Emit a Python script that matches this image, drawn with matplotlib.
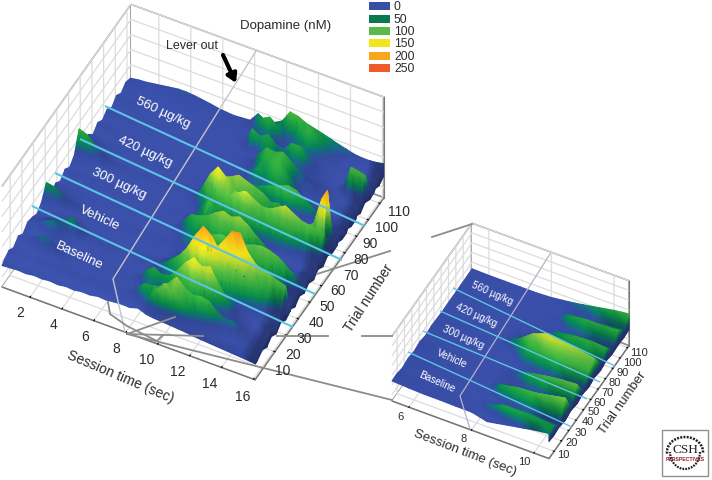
# dopamine surfaces, main plot plus zoomed inset
import numpy as np
import matplotlib
matplotlib.use('Agg')
import matplotlib.pyplot as plt
from matplotlib.artist import Artist
from matplotlib.colors import LinearSegmentedColormap, Normalize
from matplotlib.patches import Rectangle, Arc
from matplotlib.transforms import IdentityTransform
from mpl_toolkits.mplot3d import proj3d

plt.rcParams['font.family'] = ['Liberation Sans', 'DejaVu Sans']
plt.rcParams['grid.color'] = '#dcdcdc'
plt.rcParams['grid.linewidth'] = 0.9

# main surface, session time (sec) along columns
session_time = [0.25, 0.75, 1.25, 1.75, 2.25, 2.75, 3.25, 3.75, 4.25, 4.75, 5.25, 5.75, 6.25, 6.75, 7.25, 7.75,
                8.25, 8.75, 9.25, 9.75, 10.25, 10.75, 11.25, 11.75, 12.25, 12.75, 13.25, 13.75, 14.25, 14.75, 15.25, 15.75, 16.1]
trial_number = [3, 5, 9, 13, 17, 21, 25, 29, 33, 37, 41, 45, 49, 53, 57, 61, 65, 69, 73, 77, 81, 85, 89, 93, 97, 101, 105, 109, 113]

# dopamine (nM), one row per trial
baseline_rows = [
    [-12,-10,-8,-10,-6,-8,-5,-8,-4,-6,-2,-3,2,0,3,5, 4,12,2,-2,-4,-6,-8,-10,-14,-16,-18,-20,-22,-24,-26,-28,-30],
    [-4,-6,-2,-4,0,-3,2,-2,3,0,4,2,5,3,6,8, 10,18,40,80,110,95,70,45,30,20,12,5,-2,-8,-14,-20,-26],
    [6,4,8,5,9,6,10,7,8,5,9,6,7,9,10,12, 35,60,62,70,90,120,95,80,85,80,55,40,42,25,5,-10,-18],
    [-8,-6,-4,2,0,-2,1,-3,0,-2,1,0,2,3,5,8, 20,35,30,35,45,50,60,55,45,30,20,12,8,5,-2,-12,-4],
    [10,12,25,40,35,15,8,6,9,7,8,6,7,9,10,14, 50,70,55,60,90,125,150,130,140,95,60,30,15,5,0,10,18],
    [-6,-4,-2,0,-1,-3,0,-2,1,0,2,0,1,3,5,6, 12,22,35,45,60,70,65,55,50,45,40,30,22,15,8,-8,-20],
    [12,18,35,42,28,12,8,6,9,7,8,5,6,8,9,12, 25,40,60,85,120,170,210,190,150,125,110,100,90,70,50,30,25],
    [6,9,20,30,38,52,25,9,8,6,7,5,6,8,9,10, 15,30,50,70,85,95,105,125,160,200,205,150,120,110,100,90,85],
    [-5,-3,-1,0,-2,0,1,-1,0,-2,0,-1,1,2,3,4, 8,15,25,30,40,30,20,30,40,45,35,30,25,20,10,-5,-20],
]
vehicle_rows = [
    [14,16,12,10,8,9,7,8,6,7,8,6,7,8,9,10, 15,25,18,25,35,40,35,30,40,45,50,55,55,45,35,25,15],
    [55,50,35,25,15,8,6,5,6,4,6,5,5,7,8,9, 18,30,45,55,70,85,95,90,85,90,100,105,100,90,70,50,30],
    [-4,-2,-3,0,-1,1,-2,0,2,0,1,-1,2,3,4,6, 20,40,50,50,55,60,50,50,45,40,32,25,18,10,2,-8,-14],
    [10,12,9,8,7,6,7,5,6,5,7,5,6,7,8,10, 40,70,75,85,105,120,110,120,105,80,60,40,25,10,0,12,20],
    [-6,-3,-2,-1,0,-2,1,-1,0,1,0,2,1,3,4,6, 15,40,55,40,25,15,10,12,10,8,5,2,-2,-6,-10,-14,-22],
]
dose_300_rows = [
    [12,14,10,9,7,8,6,7,5,6,5,6,7,8,10,12, 15,45,80,50,40,45,50,50,55,50,50,55,50,40,30,20,15],
    [-3,-1,0,2,0,1,-1,1,0,2,1,1,2,3,4,7, 25,50,70,90,95,115,130,115,100,100,115,130,115,100,95,85,70],
    [16,14,10,8,7,6,7,6,6,5,6,6,7,8,12,22, 60,115,150,125,95,85,75,60,55,50,45,40,40,50,80,170,205],
    [80,70,45,25,10,6,5,6,4,5,5,5,6,7,9,16, 50,85,95,105,120,110,100,90,70,75,60,45,30,18,8,20,30],
]
dose_420_rows = [
    [-2,0,1,0,2,0,1,2,0,1,2,1,2,3,3,5, 10,15,25,35,30,20,25,30,20,12,8,4,0,-4,-8,-12,-22],
    [18,14,10,9,7,8,6,7,6,6,7,5,6,7,7,7, 8,15,20,25,35,50,60,70,80,90,85,65,50,30,15,5,10],
    [-4,-1,0,1,0,2,1,0,2,1,0,1,2,2,3,4, 5,10,15,25,30,30,40,50,45,30,15,8,2,-4,-10,-14,-24],
    [14,12,10,8,8,6,7,6,6,6,5,5,6,6,7,8, 6,12,14,35,55,50,70,75,50,28,14,8,4,0,-3,2,10],
    [0,2,1,3,2,1,3,2,1,2,1,2,3,3,4,6, 5,10,20,30,60,70,80,60,35,25,30,15,6,0,-6,-12,-24],
]
dose_560_rows = [
    [14,12,11,10,9,8,7,8,6,7,6,6,6,7,8,9, 10,12,15,50,80,75,85,65,40,25,20,15,10,5,2,8,14],
    [-2,1,2,3,2,3,2,4,3,2,3,4,4,5,5,7, 8,10,12,40,45,30,25,30,25,12,6,0,-2,10,90,85,80],
    [16,14,12,10,9,8,9,7,8,7,8,8,8,9,10,14, 12,70,55,70,45,40,70,70,40,20,10,4,0,0,8,6,12],
    [2,4,5,6,5,6,7,6,7,8,7,8,9,10,11,15, 15,25,30,25,20,25,35,40,30,20,12,8,3,0,-4,-8,-18],
    [16,14,12,11,12,14,15,16,17,14,12,11,12,13,14,20, 30,60,75,55,30,35,60,75,60,40,25,14,8,4,2,8,20],
    [8,12,14,18,22,26,30,30,28,24,20,15,12,10,12,14, 45,28,35,50,90,85,72,65,58,50,42,35,28,25,25,28,32],
]
wall_bottom = [-32,-30,-18,-30,-16,-30,-14,-28,-14,-28,-14,-26,-14,-26,-12,-26,-12,-24,-12,-24,-12,-24,-12,-24,-10,-22,-10,-20,-10]

# inset surface
inset_time = [5.46, 6, 6.5, 7, 7.5, 8, 8.5, 9, 9.5, 10, 10.48]
inset_trial = [3, 9, 17, 25, 33, 41, 49, 57, 65, 73, 81, 89, 97, 105, 112]
inset_low_rows = [
    [20,15,12,12,10,10,-10,5,20,35,45],
    [22,16,12,10,8,10,40,65,62,60,55],
    [12,10,8,8,6,8,15,20,25,20,15],
    [20,16,12,10,8,12,60,75,80,95,110],
    [12,10,8,7,7,8,15,20,22,25,20],
    [20,15,12,10,8,10,30,65,80,90,95],
    [10,8,8,6,6,8,12,16,18,20,15],
]
inset_high_rows = [
    [18,14,12,10,9,15,55,65,75,80,75],
    [14,12,10,9,10,50,110,140,130,115,100],
    [12,10,9,8,8,14,30,35,40,40,30],
    [14,12,11,10,10,12,20,55,70,75,70],
    [13,11,10,9,9,10,12,20,25,25,20],
    [14,12,11,10,10,12,18,60,70,70,75],
    [14,12,11,10,10,12,14,18,20,30,35],
    [16,14,14,14,14,18,28,40,55,70,80],
]
inset_wall_bottom = [5,0,5,-5,5,-5,5,-5,5,-5,5,-5,0,-5,0]

# axis labels
time_ticks = [2, 4, 6, 8, 10, 12, 14, 16]
inset_time_ticks = [6, 8, 10]
trial_ticks = [10, 20, 30, 40, 50, 60, 70, 80, 90, 100, 110]

# legend
legend_values = ['0', '50', '100', '150', '200', '250']
legend_colors = ['#3a4fa2', '#0a7a4e', '#5bb947', '#f1e51c', '#f8a61d', '#ee5a2a']

level_nodes = [-83, -30, 0, 25, 40, 50, 75, 100, 125, 150, 200, 250]
level_colors = ['#25357f', '#2f4296', '#3a4fa6', '#34499f', '#10707a', '#078a4c', '#2fab3e',
                '#62c043', '#bada30', '#f7e81a', '#fba51a', '#ef5022']
level_norm = Normalize(-83, 250)
level_cmap = LinearSegmentedColormap.from_list(
    'dopamine', [(level_norm(v), c) for v, c in zip(level_nodes, level_colors)], N=1024)


def cut_by_levels(tri, levels):
    # cut one triangle where it crosses a colour level, so the colour ramp stays right inside
    pieces = []
    rest = list(tri)
    for lev in levels:
        heights = [p[2] for p in rest]
        if min(heights) >= lev:
            continue
        if max(heights) <= lev:
            break
        below, above = [], []
        for i, p in enumerate(rest):
            q = rest[(i + 1) % len(rest)]
            if p[2] <= lev:
                below.append(p)
            if p[2] >= lev:
                above.append(p)
            if (p[2] - lev) * (q[2] - lev) < 0:
                r = p + (q - p) * (lev - p[2]) / (q[2] - p[2])
                below.append(r)
                above.append(r)
        pieces.append(below)
        rest = above
    pieces.append(rest)
    out = []
    for poly in pieces:
        for i in range(1, len(poly) - 1):
            out.append([poly[0], poly[i], poly[i + 1]])
    return out


class SurfaceLayer(Artist):
    # smooth coloured triangles, placed with the projection of a 3d box
    def __init__(self, box, t, trial, z, bottom, scales):
        super().__init__()
        self.box = box
        t = np.array(t, float)
        trial = np.array(trial, float)
        z = np.array(z, float)
        grad_t = np.gradient(z * scales[2], t * scales[0], axis=1)
        grad_y = np.gradient(z * scales[2], trial * scales[1], axis=0)
        norm = np.sqrt(grad_t ** 2 + grad_y ** 2 + 1)
        light = (0.2 * grad_t + 0.45 * grad_y + 0.85) / norm
        shade = np.clip(0.74 + 0.34 * light, 0.74, 1.06)
        # last columns are the cut end of the surface, blue parts go dark there
        shade[:, -2:] = 0.75
        # the green and yellow parts keep their colour
        shade = np.where(z >= 40, np.maximum(shade, 0.98), shade)
        wall = np.array(bottom, float)[:, None]
        self.z = np.hstack([z, wall])
        self.shade = np.hstack([shade, np.full(wall.shape, 0.6)])
        self.t, self.trial = np.meshgrid(np.append(t, t[-1]), trial)

    def draw(self, renderer):
        xs, ys, zs = proj3d.proj_transform(self.t.ravel(), self.trial.ravel(), self.z.ravel(), self.box.get_proj())
        pts = self.box.transData.transform(np.column_stack([xs, ys]))
        nrow, ncol = self.z.shape
        ids = np.arange(nrow * ncol).reshape(nrow, ncol)
        a, b, c, d = ids[:-1, :-1].ravel(), ids[:-1, 1:].ravel(), ids[1:, :-1].ravel(), ids[1:, 1:].ravel()
        tri = np.vstack([np.column_stack([a, b, c]), np.column_stack([b, d, c])])
        tri = tri[np.argsort(-zs[tri].mean(axis=1))]
        verts = np.column_stack([pts, self.z.ravel(), self.shade.ravel()])
        parts = []
        for t3 in verts[tri]:
            parts.extend(cut_by_levels(t3, level_nodes))
        parts = np.array(parts)
        # slivers make black specks in the renderer
        e1 = parts[:, 1, :2] - parts[:, 0, :2]
        e2 = parts[:, 2, :2] - parts[:, 0, :2]
        parts = parts[np.abs(e1[:, 0] * e2[:, 1] - e1[:, 1] * e2[:, 0]) > 0.5]
        colors = level_cmap(level_norm(parts[..., 2]))
        colors[..., :3] = np.clip(colors[..., :3] * parts[..., 3:4], 0, 1)
        gc = renderer.new_gc()
        renderer.draw_gouraud_triangles(gc, parts[..., :2], colors, IdentityTransform())
        gc.restore()


def make_box(fig, xlim, ylim, xticks, yticks, aspect, left_px, right_px):
    ax = fig.add_axes([0.2, 0.2, 0.5, 0.5 * 712 / 481], projection='3d', proj_type='ortho')
    ax.patch.set_alpha(0)
    ax.view_init(elev=46, azim=-63)
    ax.set_box_aspect(aspect)
    ax.set_xlim(*xlim, view_margin=0)
    ax.set_ylim(*ylim, view_margin=0)
    ax.set_zlim(-83, 250, view_margin=0)
    ax.set_xticks(xticks)
    ax.set_yticks(yticks)
    ax.set_zticks([-50, 0, 50, 100, 150, 200, 250])
    ax.set_xticklabels([])
    ax.set_yticklabels([])
    ax.set_zticklabels([])
    for axis in (ax.xaxis, ax.yaxis, ax.zaxis):
        axis.set_pane_color((1, 1, 1, 1))
        axis.pane.set_edgecolor('#8a8a8a')
        axis.pane.set_linewidth(1.1)
        axis.line.set_color('#777777')
        axis._axinfo['tick']['color'] = '#777777'
        axis._axinfo['tick']['inward_factor'] = 0
        axis._axinfo['tick']['outward_factor'] = 0.06
    ax.zaxis._axinfo['tick']['outward_factor'] = 0
    # move the box so that the two floor corners land on the wanted pixels
    for i in range(3):
        fig.canvas.draw()
        xs, ys, _ = proj3d.proj_transform(np.array([xlim[0], xlim[1]]), np.array([ylim[0], ylim[1]]),
                                          np.array([-83.0, -83.0]), ax.get_proj())
        p = ax.transData.transform(np.column_stack([xs, ys]))
        want = np.array([[left_px[0], 481 - left_px[1]], [right_px[0], 481 - right_px[1]]], float)
        scale = (want[1, 0] - want[0, 0]) / (p[1, 0] - p[0, 0])
        bb = ax.get_position()
        w_px, h_px = bb.width * 712 * scale, bb.height * 481 * scale
        x0 = want[0, 0] - (p[0, 0] - bb.x0 * 712) * scale
        y0 = want[0, 1] - (p[0, 1] - bb.y0 * 481) * scale
        ax.set_position([x0 / 712, y0 / 481, w_px / 712, h_px / 481])
    return ax


fig = plt.figure(figsize=(7.12, 4.81), dpi=100)

main_rows = baseline_rows + vehicle_rows + dose_300_rows + dose_420_rows + dose_560_rows
main_box = make_box(fig, (0.25, 16.1), (3, 113.4), time_ticks, trial_ticks, (1, 1, 0.51), (2, 288), (384, 198))
inset_box = make_box(fig, (5.46, 10.48), (3, 112), inset_time_ticks, trial_ticks, (1, 1, 0.53), (392, 402), (629, 345))

# overlay in pixel coordinates for surfaces, notes and labels
ax = fig.add_axes([0, 0, 1, 1])
ax.set_xlim(0, 712)
ax.set_ylim(481, 0)
ax.axis('off')
ax.patch.set_alpha(0)

ax.add_artist(SurfaceLayer(main_box, session_time, trial_number, main_rows, wall_bottom, (17.9, 2.57, 0.43)))
ax.add_artist(SurfaceLayer(inset_box, inset_time, inset_trial, inset_low_rows + inset_high_rows,
                           inset_wall_bottom, (35.0, 1.63, 0.28)))

# lever out lines
ax.plot([256, 113, 125], [52, 280, 333], color='#c4c4cc', lw=1.0)
ax.plot([550, 460, 470], [255, 397, 430], color='#b8b0cc', lw=0.9)

# session dividers
cyan = '#5cc4e6'
for x0, y0, x1, y1 in [(105, 107, 365, 227), (80, 140, 342, 261), (55, 174, 315, 295), (32, 207, 293, 328)]:
    ax.plot([x0, x1], [y0, y1], color=cyan, lw=1.5, solid_capstyle='butt')
for x0, y0, x1, y1 in [(453, 289, 615, 367), (440, 312, 600, 383), (423, 332, 587, 400), (408, 353, 572, 428)]:
    ax.plot([x0, x1], [y0, y1], color=cyan, lw=1.0, solid_capstyle='butt')

# zoom connectors
grey = '#8c8c8c'
for xs, ys in [([127, 203], [335, 337]), ([277, 328], [337, 337]), ([362, 392], [337, 337]),
               ([127, 392], [335, 401]), ([127, 175], [335, 318]), ([317, 390], [275, 252]),
               ([432, 472], [238, 225]), ([108, 110, 127, 157, 163], [303, 315, 327, 342, 336])]:
    ax.plot(xs, ys, color=grey, lw=1.3)

ax.annotate('', xy=(236, 84), xytext=(223, 56),
            arrowprops=dict(arrowstyle='-|>,head_width=0.3,head_length=0.5', color='black', lw=3, shrinkA=0, shrinkB=0))

txt = '#2b2b2b'
ax.text(286, 26, 'Dopamine (nM)', fontsize=9.5, color=txt, ha='center', va='center')
ax.text(192, 46, 'Lever out', fontsize=9, color=txt, ha='center', va='center')
ax.text(120, 377, 'Session time (sec)', fontsize=10, color=txt, rotation=-23, ha='center', va='center', rotation_mode='anchor')
ax.text(369, 298, 'Trial number', fontsize=10, color=txt, rotation=57, ha='center', va='center', rotation_mode='anchor')
ax.text(465, 453, 'Session time (sec)', fontsize=9.5, color=txt, rotation=-21, ha='center', va='center', rotation_mode='anchor')
ax.text(623, 403, 'Trial number', fontsize=9.5, color=txt, rotation=55, ha='center', va='center', rotation_mode='anchor')

for tick, x, y in zip(time_ticks, [20, 53, 85, 116, 147, 178, 210, 243], [313, 325, 337, 349, 360, 372, 384, 397]):
    ax.text(x, y, str(tick), fontsize=10, color=txt, ha='center', va='center')
for tick, x, y in zip(trial_ticks, [283, 293, 304, 316, 327, 338, 351, 361, 370, 387, 399],
                      [371, 355, 339, 323, 307, 291, 276, 260, 244, 228, 212]):
    ax.text(x, y, str(tick), fontsize=10, color=txt, ha='center', va='center')
for tick, x, y in zip(inset_time_ticks, [401, 464, 524], [417, 439, 462]):
    ax.text(x, y, str(tick), fontsize=8, color=txt, ha='center', va='center')
for tick, x, y in zip(trial_ticks, [563, 572, 581, 588, 594, 600, 608, 615, 623, 632, 639],
                      [455, 443, 433, 422, 412, 403, 393, 383, 373, 363, 353]):
    ax.text(x, y, str(tick), fontsize=8, color=txt, ha='center', va='center')

for label, x, y in [('560 µg/kg', 163, 113), ('420 µg/kg', 145, 152), ('300 µg/kg', 119, 184), ('Vehicle', 100, 218), ('Baseline', 79, 256)]:
    ax.text(x, y, label, color='white', fontsize=9.5, rotation=-25, ha='center', va='center', rotation_mode='anchor')
for label, x, y in [('560 µg/kg', 492, 293), ('420 µg/kg', 476, 315), ('300 µg/kg', 463, 337), ('Vehicle', 452, 359), ('Baseline', 437, 382)]:
    ax.text(x, y, label, color='white', fontsize=7.2, rotation=-24, ha='center', va='center', rotation_mode='anchor')

# colour key
for i, (label, color) in enumerate(zip(legend_values, legend_colors)):
    y = 7.3 + i * 12.3
    ax.add_patch(Rectangle((369, y - 4), 21, 8, facecolor=color, edgecolor='none'))
    ax.text(394, y, label, fontsize=8.8, color=txt, ha='left', va='center')

# logo
ax.add_patch(Rectangle((662, 431), 46, 46, facecolor='white', edgecolor='#909090', lw=1))
ax.add_patch(Arc((685, 453), 36, 30, theta1=175, theta2=365, color='#222222', lw=1.8, ls=(0, (0.8, 0.5))))
ax.add_patch(Arc((685, 453), 30, 34, theta1=0, theta2=180, color='#222222', lw=1.6, ls=(0, (0.8, 0.5))))
ax.text(685, 450, 'CSH', fontsize=9.5, family='Liberation Serif', color='#222222', ha='center', va='center')
ax.text(685, 459.5, 'PERSPECTIVES', fontsize=3.7, fontweight='bold', color='#8c1f2f', ha='center', va='center')

fig.savefig('out.png', dpi=100)
